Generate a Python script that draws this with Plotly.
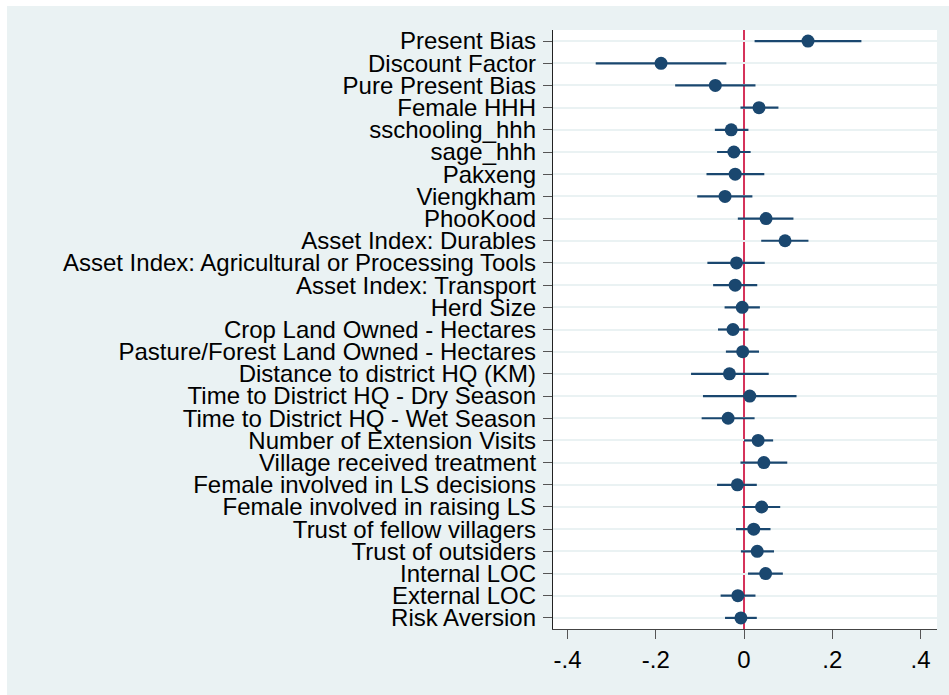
import plotly.graph_objects as go

labels = [
    "Present Bias", "Discount Factor", "Pure Present Bias", "Female HHH",
    "sschooling_hhh", "sage_hhh", "Pakxeng", "Viengkham", "PhooKood",
    "Asset Index: Durables", "Asset Index: Agricultural or Processing Tools",
    "Asset Index: Transport", "Herd Size", "Crop Land Owned - Hectares",
    "Pasture/Forest Land Owned - Hectares", "Distance to district HQ (KM)",
    "Time to District HQ - Dry Season", "Time to District HQ - Wet Season",
    "Number of Extension Visits", "Village received treatment",
    "Female involved in LS decisions", "Female involved in raising LS",
    "Trust of fellow villagers", "Trust of outsiders", "Internal LOC",
    "External LOC", "Risk Aversion",
]
coef = [0.145, -0.188, -0.065, 0.034, -0.029, -0.023, -0.020, -0.043, 0.050,
        0.093, -0.017, -0.020, -0.004, -0.025, -0.003, -0.033, 0.013, -0.036,
        0.032, 0.045, -0.015, 0.040, 0.022, 0.030, 0.049, -0.014, -0.007]
ci_low = [0.024, -0.336, -0.156, -0.008, -0.066, -0.061, -0.085, -0.106, -0.014,
          0.039, -0.083, -0.070, -0.044, -0.059, -0.041, -0.120, -0.093, -0.096,
          0.000, -0.008, -0.061, -0.004, -0.018, -0.007, 0.009, -0.053, -0.043]
ci_high = [0.266, -0.040, 0.026, 0.078, 0.010, 0.015, 0.046, 0.019, 0.112,
           0.146, 0.047, 0.030, 0.036, 0.010, 0.034, 0.056, 0.119, 0.024,
           0.066, 0.098, 0.029, 0.082, 0.060, 0.068, 0.088, 0.026, 0.029]
x_ticks = [-0.4, -0.2, 0, 0.2, 0.4]
x_tick_text = ["-.4", "-.2", "0", ".2", ".4"]

navy = "#1a476f"
bg = "#eaf2f3"
font_family = "Liberation Sans, Arial, sans-serif"

fig = go.Figure()
fig.add_trace(go.Scatter(
    x=coef, y=labels, mode="markers",
    marker=dict(color=navy, size=13, line=dict(width=0)),
    error_x=dict(type="data", symmetric=False,
                 array=[h - c for h, c in zip(ci_high, coef)],
                 arrayminus=[c - l for c, l in zip(coef, ci_low)],
                 color=navy, thickness=2.2, width=0),
    showlegend=False,
))
fig.add_vline(x=0, line=dict(color="#d5325a", width=2), layer="below")

W, H = 949, 695
L, R, T, B = 553, 12, 30, 66
pw, ph = W - L - R, H - T - B
# thin white border of the original image (left and top edges)
fig.add_shape(type="rect", xref="paper", yref="paper",
              x0=-L / pw, x1=(7 - L) / pw, y0=-B / ph, y1=1 + T / ph,
              fillcolor="white", line=dict(width=0), layer="above")
fig.add_shape(type="rect", xref="paper", yref="paper",
              x0=-L / pw, x1=1 + R / pw, y0=1 + (T - 6) / ph, y1=1 + T / ph,
              fillcolor="white", line=dict(width=0), layer="above")

fig.update_layout(
    width=W, height=H,
    margin=dict(l=L, r=R, t=T, b=B, autoexpand=False),
    paper_bgcolor=bg, plot_bgcolor="white",
    font=dict(family=font_family, size=24, color="black"),
)
fig.update_xaxes(
    range=[-0.4328, 0.4373], tickvals=x_ticks, ticktext=x_tick_text,
    showgrid=False, zeroline=False,
    showline=True, linecolor="#444", linewidth=1.3,
    ticks="outside", ticklen=9, tickcolor="#555", tickwidth=1.3,
    tickfont=dict(size=24), fixedrange=True,
)
fig.update_yaxes(
    categoryorder="array", categoryarray=labels,
    tickmode="linear", tick0=0, dtick=1,
    range=[len(labels) - 0.5, -0.5],
    showgrid=True, gridcolor=bg, gridwidth=2,
    zeroline=False,
    showline=True, linecolor="#222", linewidth=1.3,
    ticks="outside", ticklen=9, tickcolor="#555", tickwidth=1.3,
    ticklabelstandoff=2,
    tickfont=dict(size=24),
)
fig.write_html("out.html",
               config={"displayModeBar": False},
               post_script="document.body.style.margin='0';"
                           "document.body.style.overflow='hidden';")
